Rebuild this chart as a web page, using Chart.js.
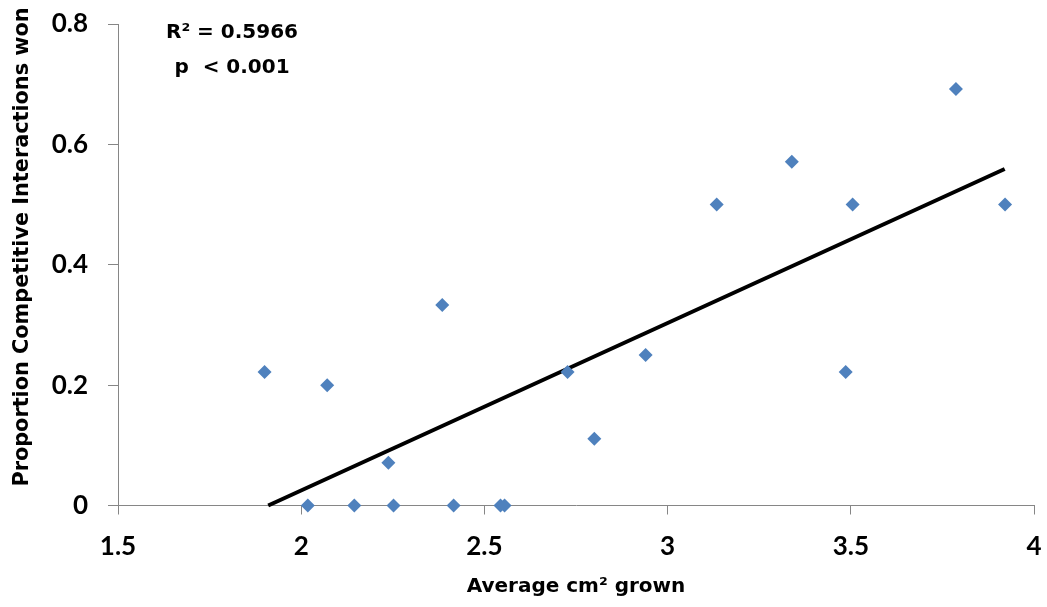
<!DOCTYPE html>
<html>
<head>
<meta charset="utf-8">
<script src="https://cdn.jsdelivr.net/npm/chart.js@4/dist/chart.umd.min.js"></script>
<style>
  html, body { margin: 0; padding: 0; background: #ffffff; }
  #wrap { width: 1047px; height: 607px; }
</style>
</head>
<body>
<div id="wrap"><canvas id="c" width="1047" height="607"></canvas></div>
<script>
// Average area grown (cm²) and proportion of competitive interactions won
const areaGrown = [1.90, 2.018, 2.071, 2.145, 2.238, 2.252, 2.385, 2.416, 2.544, 2.555,
                   2.727, 2.80, 2.94, 3.134, 3.339, 3.486, 3.505, 3.787, 3.921];
const propWon   = [0.222, 0, 0.2, 0, 0.071, 0, 0.333, 0, 0, 0,
                   0.222, 0.111, 0.25, 0.5, 0.571, 0.222, 0.5, 0.692, 0.5];

// Linear trend line end points
const trendX = [1.91, 3.92];
const trendY = [0, 0.559];

const statLines = ['R\u00B2 = 0.5966', 'p  < 0.001'];

const xTitle = 'Average cm\u00B2 grown';
const yTitle = 'Proportion Competitive Interactions won';

const points = areaGrown.map((x, i) => ({ x: x, y: propWon[i] }));
const trend = trendX.map((x, i) => ({ x: x, y: trendY[i] }));

const axisColor = '#868686';
const tickFont = { family: 'Lato', weight: 'bold', size: 26 };
const titleFont = { family: 'DejaVu Sans', weight: 'bold', size: 20 };

// plain numbers: 2 rather than 2.0
const fmt = (v) => String(Math.round(v * 10) / 10);

// statistics box and the vertical axis title
const extraText = {
  id: 'extraText',
  afterDraw(chart) {
    const ctx = chart.ctx;
    ctx.save();
    ctx.fillStyle = '#000000';
    ctx.font = 'bold 20px "DejaVu Sans"';
    ctx.textAlign = 'center';
    ctx.textBaseline = 'middle';
    ctx.fillText(statLines[0], 232, 33);
    ctx.fillText(statLines[1], 232, 68);

    ctx.font = 'bold 20.8px "DejaVu Sans"';
    ctx.textBaseline = 'alphabetic';
    ctx.translate(28, 247);
    ctx.rotate(-Math.PI / 2);
    ctx.fillText(yTitle, 0, 0);
    ctx.restore();
  }
};

new Chart(document.getElementById('c'), {
  type: 'scatter',
  data: {
    datasets: [
      {
        label: 'Trend',
        data: trend,
        showLine: true,
        borderColor: '#000000',
        borderWidth: 4,
        pointRadius: 0,
        fill: false,
        clip: false,
        order: 2
      },
      {
        label: 'Observed',
        data: points,
        pointStyle: 'rectRot',
        pointRadius: 7,
        pointHoverRadius: 7,
        backgroundColor: '#4f81bd',
        borderColor: '#4f81bd',
        borderWidth: 0,
        clip: false,
        order: 1
      }
    ]
  },
  options: {
    responsive: false,
    animation: false,
    events: [],
    layout: { padding: { top: 24, right: 13, bottom: 0, left: 0 } },
    plugins: {
      legend: { display: false },
      tooltip: { enabled: false }
    },
    scales: {
      x: {
        type: 'linear',
        min: 1.5,
        max: 4,
        ticks: { stepSize: 0.5, color: '#000000', font: tickFont, padding: 17, callback: fmt },
        grid: { drawOnChartArea: false, tickLength: 9, color: axisColor, tickColor: axisColor },
        border: { color: axisColor, width: 1 },
        title: { display: true, text: xTitle, color: '#000000', font: titleFont, padding: { top: 0, bottom: 8 } },
        afterFit(scale) {
          scale.height = 101.5;
          scale.paddingLeft = 0;
          scale.paddingRight = 0;
        }
      },
      y: {
        type: 'linear',
        min: 0,
        max: 0.8,
        ticks: { stepSize: 0.2, color: '#000000', font: tickFont, padding: 20, callback: fmt },
        grid: { drawOnChartArea: false, tickLength: 10, color: axisColor, tickColor: axisColor },
        border: { color: axisColor, width: 1 },
        title: { display: false },
        afterFit(scale) {
          scale.width = 118;
          scale.paddingTop = 0;
          scale.paddingBottom = 0;
        }
      }
    }
  },
  plugins: [extraText]
});
</script>
</body>
</html>
